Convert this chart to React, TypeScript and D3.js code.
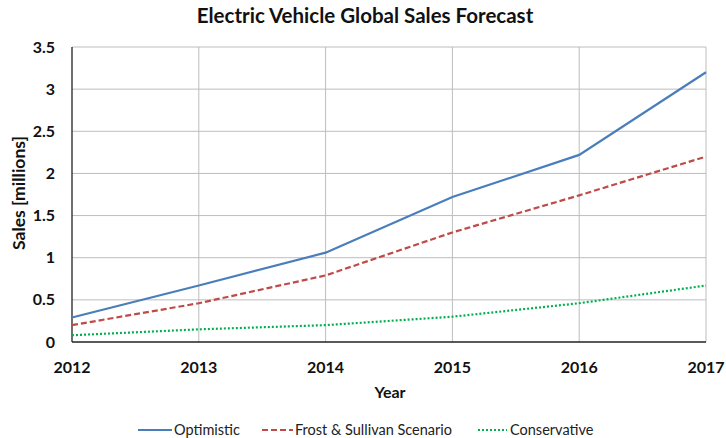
import React from "react";
import * as d3 from "d3";

type Serie = { nome: string, valores: number[], cor: string, traco: string };

const anos: number[] = [2012, 2013, 2014, 2015, 2016, 2017];
const otimista: number[] = [0.29, 0.67, 1.06, 1.72, 2.22, 3.2];
const frostSullivan: number[] = [0.2, 0.46, 0.79, 1.3, 1.74, 2.2];
const conservador: number[] = [0.08, 0.15, 0.2, 0.3, 0.46, 0.67];
const ticksY: number[] = [0, 0.5, 1, 1.5, 2, 2.5, 3, 3.5];

const series: Serie[] = [
    {nome: "Optimistic", valores: otimista, cor: "#4a7ebb", traco: ""},
    {nome: "Frost & Sullivan Scenario", valores: frostSullivan, cor: "#be4b48", traco: "6,3"},
    {nome: "Conservative", valores: conservador, cor: "#00b050", traco: "2,2"},
];

const largura = 726;
const altura = 438;
const margem = {top: 47, right: 20, bottom: 96, left: 72};
const fonte = "Lato, 'Open Sans', sans-serif";

// posições da legenda (linha e texto)
const legenda = [
    {x0: 138, x1: 172, tx: 174},
    {x0: 262, x1: 293, tx: 295},
    {x0: 478, x1: 507, tx: 510},
];

export default function App() {
    const x = d3.scaleLinear()
        .domain([anos[0], anos[anos.length - 1]])
        .range([margem.left, largura - margem.right]);
    const y = d3.scaleLinear()
        .domain([0, 3.5])
        .range([altura - margem.bottom, margem.top]);

    const linha = (vals: number[]) => d3.line<number>()
        .x((_, i) => x(anos[i]))
        .y(d => y(d))(vals) ?? "";

    return (
        <svg width={largura} height={altura}
             style={{position: "absolute", left: 0, top: 0, background: "white", fontFamily: fonte}}>
            <text x={365} y={23} textAnchor="middle" fontSize={20.5} fontWeight="bold" fill="#111">
                Electric Vehicle Global Sales Forecast
            </text>

            {/* grade */}
            <g stroke="#bdbdbd" strokeWidth={1}>
                {ticksY.filter(t => t > 0).map(t =>
                    <line key={t} x1={x(anos[0])} x2={x(anos[5])} y1={y(t)} y2={y(t)}/>)}
                {anos.slice(1).map(a =>
                    <line key={a} x1={x(a)} x2={x(a)} y1={y(0)} y2={y(3.5)}/>)}
            </g>
            <line x1={x(anos[0])} x2={x(anos[0])} y1={y(0)} y2={y(3.5)} stroke="#222" strokeWidth={1.3}/>
            <line x1={x(anos[0])} x2={x(anos[5])} y1={y(0)} y2={y(0)} stroke="#222" strokeWidth={1.3}/>

            {/* eixos */}
            <g fontSize={16} fontWeight="bold" fill="#111">
                {ticksY.map(t =>
                    <text key={t} x={55} y={y(t)} dy="0.35em" textAnchor="end">{t}</text>)}
                {anos.map(a =>
                    <text key={a} x={x(a)} y={373} textAnchor="middle">{a}</text>)}
            </g>
            <text x={390} y={398} textAnchor="middle" fontSize={16} fontWeight="bold" fill="#111">Year</text>
            <text transform={`translate(25, 193) rotate(-90)`} textAnchor="middle"
                  fontSize={17.5} fontWeight="bold" fill="#111">Sales [millions]</text>

            {/* séries */}
            {series.map(s =>
                <path key={s.nome} d={linha(s.valores)} fill="none" stroke={s.cor}
                      strokeWidth={2.2} strokeDasharray={s.traco}/>)}

            {/* legenda */}
            {series.map((s, i) =>
                <g key={s.nome}>
                    <line x1={legenda[i].x0} x2={legenda[i].x1} y1={430} y2={430} stroke={s.cor}
                          strokeWidth={2.2} strokeDasharray={s.traco}/>
                    <text x={legenda[i].tx} y={430} dy="0.35em" fontSize={14.5} fill="#222">{s.nome}</text>
                </g>)}
        </svg>
    );
}
